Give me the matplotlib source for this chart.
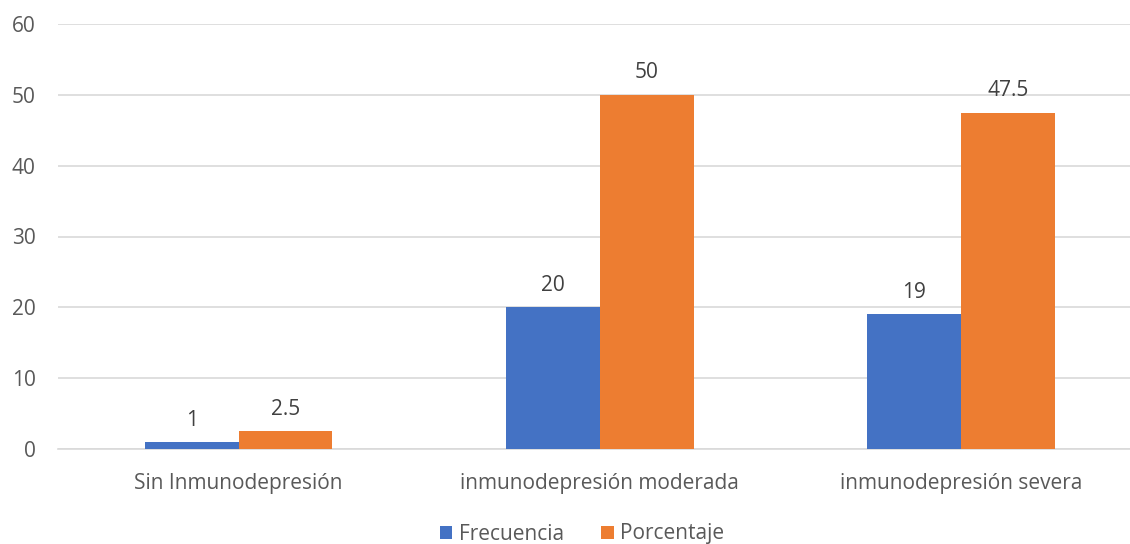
import numpy as np
from matplotlib import pyplot as plt

plt.rcParams['font.family'] = ['Open Sans', 'DejaVu Sans']

# data
categories = ['Sin Inmunodepresión', 'inmunodepresión moderada', 'inmunodepresión severa']
frecuencia = [1, 20, 19]
porcentaje = [2.5, 50, 47.5]
series_names = ['Frecuencia', 'Porcentaje']

blue = '#4472C4'
orange = '#ED7D31'
text_col = '#595959'

fig = plt.figure(figsize=(11.3, 5.44), dpi=100)
ax = fig.add_axes([58/1130, 95/544, 1 - 58/1130, 425/544])

x = np.arange(len(categories))
w = 0.26
b1 = ax.bar(x - w/2, frecuencia, w, color=blue, label=series_names[0], zorder=3)
b2 = ax.bar(x + w/2, porcentaje, w, color=orange, label=series_names[1], zorder=3)

for bars, vals in [(b1, frecuencia), (b2, porcentaje)]:
    for r, v in zip(bars, vals):
        ax.text(r.get_x() + r.get_width()/2, v + 1.6, '{:g}'.format(v),
                ha='center', va='bottom', fontsize=15, color='#404040')

ax.set_ylim(0, 60)
ax.set_yticks(np.arange(0, 61, 10))
ax.set_xlim(-0.5, (1130 - 239) / 361)
ax.set_xticks(x)
ax.set_xticklabels(categories)
ax.tick_params(axis='both', length=0, labelsize=15, labelcolor=text_col)
ax.tick_params(axis='x', pad=17)
ax.tick_params(axis='y', pad=16)
ax.grid(axis='y', color='#D9D9D9', linewidth=1.2, zorder=0)
for s in ['top', 'right', 'left']:
    ax.spines[s].set_visible(False)
ax.spines['bottom'].set_color('#D9D9D9')
ax.spines['bottom'].set_linewidth(1.2)

fig.legend(loc='center', bbox_to_anchor=(582/1130, 1 - 534/544), ncol=2, frameon=False,
           fontsize=15, labelcolor=text_col, handlelength=0.6, handleheight=0.6,
           handletextpad=0.3, columnspacing=1.8)

fig.savefig('out.png', dpi=100)
